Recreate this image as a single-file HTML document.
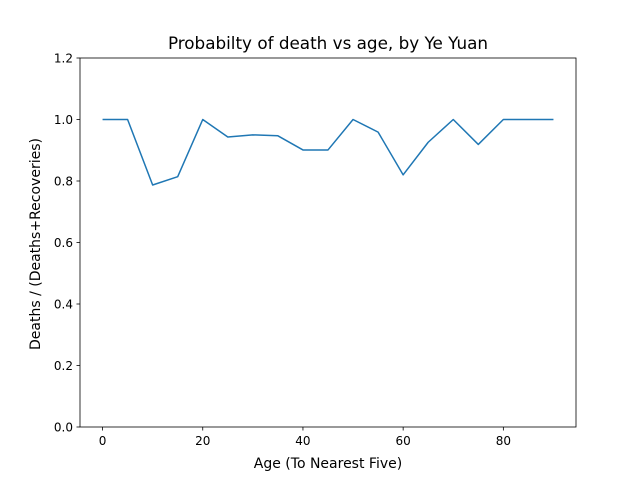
<!DOCTYPE html>
<html><head><meta charset="utf-8"><style>
body{margin:0;background:#fff;}
svg{display:block;font-family:"DejaVu Sans","Liberation Sans",sans-serif;}
</style></head><body>
<svg id="chart" width="640" height="480">
<rect x="0" y="0" width="640" height="480" fill="#fff"/>
<text x="328" y="49" font-size="16.8" text-anchor="middle">Probabilty of death vs age, by Ye Yuan</text>
<text x="328" y="468" font-size="14" text-anchor="middle">Age (To Nearest Five)</text>
<text transform="translate(40,244) rotate(-90)" font-size="14" text-anchor="middle">Deaths / (Deaths+Recoveries)</text>
<g id="ticks"></g>
<path id="line" fill="none" stroke="#1f77b4" stroke-width="1.5" stroke-linejoin="round"/>
<rect x="80" y="58" width="496" height="369" fill="none" stroke="#000" stroke-width="0.8"/>
</svg>
<script>
const ages=[0,5,10,15,20,25,30,35,40,45,50,55,60,65,70,75,80,85,90];
const probs=[1.0,1.0,0.787,0.814,1.0,0.943,0.950,0.947,0.901,0.901,1.0,0.959,0.820,0.926,1.0,0.919,1.0,1.0,1.0];
const xTicks=[0,20,40,60,80];
const yTicks=[0.0,0.2,0.4,0.6,0.8,1.0,1.2];
const X0=80,X1=576,Y0=427,Y1=58,xmin=-4.5,xmax=94.5,ymin=0,ymax=1.2;
function xs(v){return X0+(v-xmin)/(xmax-xmin)*(X1-X0);}
function ys(v){return Y0-(v-ymin)/(ymax-ymin)*(Y0-Y1);}
const NS="http://www.w3.org/2000/svg";
const g=document.getElementById('ticks');
xTicks.forEach(t=>{
 const l=document.createElementNS(NS,'line');
 
 
 l.setAttribute('x1',xs(t));l.setAttribute('x2',xs(t));l.setAttribute('y1',Y0);l.setAttribute('y2',Y0+3.5);l.setAttribute('stroke','#000');l.setAttribute('stroke-width','0.8');g.appendChild(l);
 const tx=document.createElementNS(NS,'text');
 
 
 tx.setAttribute('x',xs(t));tx.setAttribute('y',Y0+18);tx.setAttribute('font-size','12');tx.setAttribute('text-anchor','middle');tx.textContent=t;g.appendChild(tx);
});
yTicks.forEach(t=>{
 const l=document.createElementNS(NS,'line');
 
 
 l.setAttribute('x1',X0-3.5);l.setAttribute('x2',X0);l.setAttribute('y1',ys(t));l.setAttribute('y2',ys(t));l.setAttribute('stroke','#000');l.setAttribute('stroke-width','0.8');g.appendChild(l);
 const tx=document.createElementNS(NS,'text');
 
 
 tx.setAttribute('x',X0-7);tx.setAttribute('y',ys(t)+4.5);tx.setAttribute('font-size','12');tx.setAttribute('text-anchor','end');tx.textContent=t.toFixed(1);g.appendChild(tx);
});
document.getElementById('line').setAttribute('d',ages.map((a,i)=>(i?'L':'M')+xs(a)+','+ys(probs[i])).join(' '));
</script>
</body></html>
